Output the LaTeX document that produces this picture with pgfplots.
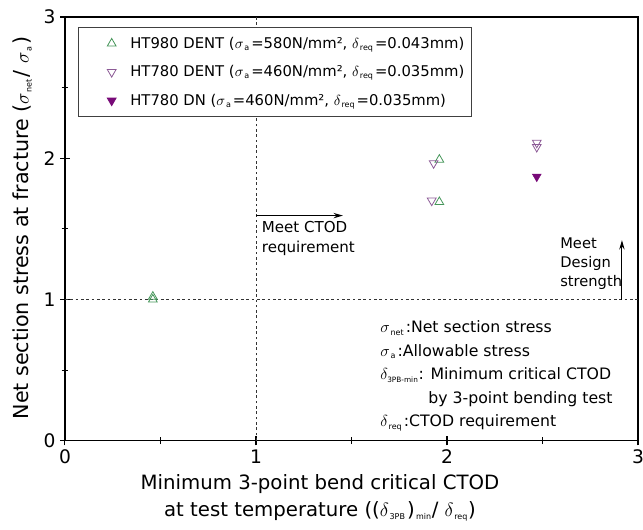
\documentclass[border=0pt]{standalone}
\usepackage{pgfplots}
\pgfplotsset{compat=1.18}
\usetikzlibrary{arrows.meta}
\usepackage{fontspec}
\setmainfont{DejaVu Sans}
\definecolor{grn}{RGB}{70,150,90}
\definecolor{pur}{RGB}{140,90,150}
\definecolor{dpur}{RGB}{120,10,120}
\newcommand{\sub}[1]{_{\hbox{\fontsize{6}{6}\selectfont\,#1}}}
\newcommand{\subw}[1]{_{\hbox{\fontsize{6}{6}\selectfont\,#1\,}}}
\newcommand{\subs}[1]{_{\hbox{\fontsize{5.5}{6}\selectfont #1}}}
\pgfplotsset{mylegimg/.style={legend image code/.code={\path[draw=none,fill=none] (0pt,-3pt) rectangle (34pt,3pt); \draw[##1] plot coordinates {(22pt,0pt)};}}}
\begin{document}
\begin{tikzpicture}
\path[use as bounding box] (-48.75pt,-66.75pt) rectangle (433.75pt,330.75pt);
\begin{axis}[
  at={(0,0)}, anchor=south west,
  scale only axis, width=430pt, height=318pt,
  xmin=0, xmax=3, ymin=0, ymax=3,
  xtick={0,1,2,3}, ytick={0,1,2,3},
  minor xtick={0.5,1.5,2.5}, minor ytick={0.5,1.5,2.5},
  tick align=center, xtick pos=left, ytick pos=left,
  major tick length=7pt, minor tick length=5pt,
  tick style={line width=0.8pt, black},
  axis line style={line width=1pt},
  ticklabel style={font=\fontsize{14}{16}\selectfont},
  /pgf/number format/assume math mode=true,
  xlabel={Minimum 3-point bend critical CTOD\\at test temperature (($\delta\subw{3PB}$)$\sub{min}$/ $\delta\sub{req}$)},
  xlabel style={align=center, font=\fontsize{14.8}{20}\selectfont, at={(axis description cs:0.445,0)}, anchor=north, yshift=-22pt},
  ylabel={Net section stress at fracture ($\sigma\subw{net}$/ $\sigma\subw{a}$)},
  ylabel style={font=\fontsize{15.5}{16}\selectfont, at={(axis description cs:-0.0744,0.502)}, anchor=center},
  legend style={at={(axis description cs:0.0227,0.976)}, anchor=north west,
    font=\fontsize{11.1}{13}\selectfont, draw=black!75, line width=0.6pt,
    row sep=7.5pt, inner ysep=5pt, cells={anchor=west}},
]
\addplot[only marks, mark=triangle, mark size=3.8pt, grn, mark options={line width=0.6pt}, mylegimg]
  coordinates {(0.46,1.02)(0.46,1.00)(1.96,1.99)(1.96,1.69)};
\addlegendentry{HT980 DENT ($\sigma\subw{a}$=580N/mm², $\delta\subw{req}$=0.043mm)}
\addplot[only marks, mark=triangle, mark size=3.8pt, pur, mark options={rotate=180, line width=0.6pt}, mylegimg]
  coordinates {(1.93,1.965)(1.92,1.70)(2.47,2.11)(2.47,2.08)};
\addlegendentry{HT780 DENT ($\sigma\subw{a}$=460N/mm², $\delta\subw{req}$=0.035mm)}
\addplot[only marks, mark=triangle*, mark size=3.8pt, dpur, mark options={rotate=180}, mylegimg]
  coordinates {(2.47,1.87)};
\addlegendentry{HT780 DN ($\sigma\subw{a}$=460N/mm², $\delta\subw{req}$=0.035mm)}
\addplot[forget plot, black!80, line width=0.6pt, dash pattern=on 2pt off 2pt] coordinates {(1,0)(1,3)};
\addplot[forget plot, black!80, line width=0.6pt, dash pattern=on 2pt off 2pt] coordinates {(0,1)(3,1)};
\draw[-{Stealth[length=7pt,width=4pt]}, line width=0.8pt] (axis cs:1,1.594) -- (axis cs:1.455,1.594);
\draw[-{Stealth[length=7pt,width=4pt]}, line width=0.8pt] (axis cs:2.916,1.0) -- (axis cs:2.916,1.42);
\node[anchor=north west, align=left, font=\fontsize{11.3}{14.3}\selectfont, inner sep=0pt] at (axis cs:1.03,1.552) {Meet CTOD\\requirement};
\node[anchor=north west, align=left, font=\fontsize{11}{14.6}\selectfont, inner sep=0pt] at (axis cs:2.592,1.442) {Meet\\Design\\strength};
\node[anchor=north west, align=left, font=\fontsize{11.8}{17.6}\selectfont, inner sep=0pt] at (axis cs:1.65,0.85)
  {$\sigma\subw{net}$:Net section stress\\
   $\sigma\subw{a}$:Allowable stress\\
   $\delta\subs{3PB-min}$: Minimum critical CTOD\\
   \hspace*{36pt}by 3-point bending test\\
   $\delta\subw{req}$:CTOD requirement};
\end{axis}
\end{tikzpicture}
\end{document}
